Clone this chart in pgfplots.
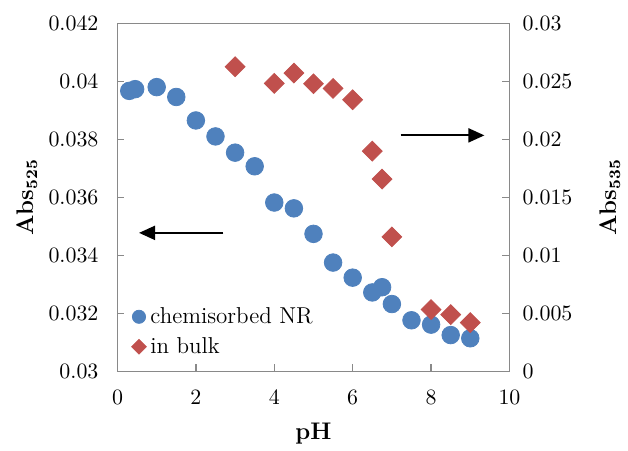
\documentclass[border=0pt]{standalone}
\usepackage{pgfplots}
\pgfplotsset{compat=1.18}
\usetikzlibrary{arrows.meta}
\definecolor{nrblue}{HTML}{4F81BD}
\definecolor{bulkred}{HTML}{C0504D}
\definecolor{axgray}{HTML}{898989}

\begin{document}
\begin{tikzpicture}[font=\fontsize{11}{13}\selectfont]
\pgfplotsset{
  base/.style={
    scale only axis, width=196pt, height=174pt,
    xmin=0, xmax=10, xtick={0,2,4,6,8,10},
    tick align=inside, major tick length=3.5pt,
    axis line style={axgray, line width=0.75pt},
    every tick/.style={axgray, line width=0.75pt},
    tick label style={font=\fontsize{11}{13}\selectfont},
    scaled y ticks=false,
    yticklabel style={/pgf/number format/fixed, /pgf/number format/precision=3},
    clip=false,
  },
}
% left axis: chemisorbed NR
\begin{axis}[base,
    ymin=0.03, ymax=0.042,
    ytick={0.03,0.032,0.034,0.036,0.038,0.04,0.042},
    xtick pos=bottom, ytick pos=left,
    xticklabel style={yshift=-6pt},
    yticklabel style={xshift=-6pt},
    xlabel={\textbf{pH}},
    ylabel={\textbf{Abs$_{\mathbf{525}}$}},
    every axis x label/.style={at={(axis description cs:0.5,-0.178)}, anchor=center, font=\fontsize{12}{14}\selectfont},
    every axis y label/.style={at={(axis description cs:-0.231,0.5)}, rotate=90, anchor=center, font=\fontsize{12}{14}\selectfont},
  ]
  \addplot[only marks, mark=*, mark size=4.4pt, color=nrblue] coordinates {
    (0.3,0.03967) (0.45,0.03973) (1,0.0398) (1.5,0.03946) (2,0.03865)
    (2.5,0.0381) (3,0.03754) (3.5,0.03707) (4,0.03582) (4.5,0.03562)
    (5,0.03474) (5.5,0.03375) (6,0.03323) (6.5,0.03272) (6.75,0.0329)
    (7,0.03232) (7.5,0.03176) (8,0.03161) (8.5,0.03125) (9,0.03114)
  };
  \draw[line width=1pt, -{Triangle[length=8pt,width=7pt]}] (axis cs:2.7,0.034774) -- (axis cs:0.55,0.034774);
  \draw[line width=1pt, -{Triangle[length=8pt,width=7pt]}] (axis cs:7.22,0.038136) -- (axis cs:9.36,0.038136);
  % full picture extent
  \path (rel axis cs:-0.2997,-0.2100) rectangle (rel axis cs:1.3023,1.0670);
\end{axis}
% right axis: in bulk
\begin{axis}[base,
    ymin=0, ymax=0.03,
    ytick={0,0.005,0.01,0.015,0.02,0.025,0.03},
    axis x line=none, axis y line*=right, ytick pos=right,
    yticklabel style={xshift=3pt},
    ylabel={\textbf{Abs$_{\mathbf{535}}$}},
    every axis y label/.style={at={(axis description cs:1.256,0.5)}, rotate=90, anchor=center, font=\fontsize{12}{14}\selectfont},
    legend style={draw=none, fill=none, at={(axis description cs:0.03,0.025)}, anchor=south west,
      font=\fontsize{11.5}{13}\selectfont, row sep=1.5pt, inner sep=1pt},
    legend cell align=left,
  ]
  \addlegendimage{only marks, mark=*, mark size=3.3pt, color=nrblue}
  \addlegendentry{chemisorbed NR}
  \addlegendimage{only marks, mark=square*, mark size=2.6pt, mark options={rotate=45}, color=bulkred}
  \addlegendentry{in bulk}
  \addplot[only marks, mark=square*, mark size=3.5pt, mark options={rotate=45}, color=bulkred, forget plot] coordinates {
    (3,0.02626) (4,0.02482) (4.5,0.02571) (5,0.02479) (5.5,0.02439) (6,0.02341)
    (6.5,0.01898) (6.75,0.01657) (7,0.01159) (8,0.00532) (8.5,0.00489) (9,0.0042)
  };
\end{axis}
\end{tikzpicture}
\end{document}
